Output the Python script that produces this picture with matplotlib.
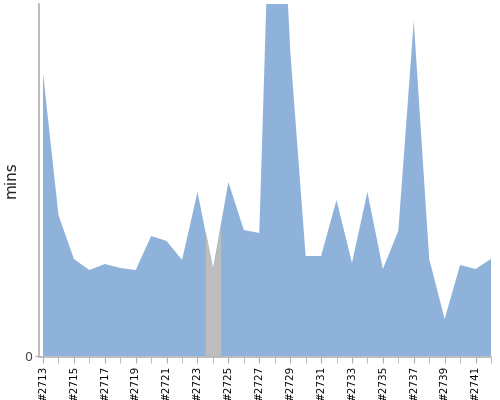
import numpy as np
import matplotlib
matplotlib.use("Agg")
import matplotlib.pyplot as plt

# build numbers and their durations (mins)
builds = np.arange(2713, 2743)
durations = np.array([28.3, 14.1, 9.7, 8.6, 9.2, 8.8, 8.6, 12.0, 11.5, 9.6,
                      16.4, 8.7, 17.4, 12.6, 12.3, 62.7, 30.6, 10.0, 10.0, 15.6,
                      9.3, 16.4, 8.7, 12.5, 33.5, 9.7, 3.7, 9.1, 8.7, 9.7])
# builds that were aborted (grey segments)
aborted = [2724]
tick_labels = ["#%d" % b for b in builds[::2]]

blue = "#8eb2d9"
grey = "#bdbdbd"
axis_grey = "#b0b0b0"

fig = plt.figure(figsize=(5, 4), dpi=100)
ax = fig.add_axes([39 / 500, 44 / 400, 452 / 500, 352 / 400])

# whole series in blue
ax.fill_between(builds, 0, durations, color=blue, linewidth=0)

# each aborted build covers half a step either side
for b in aborted:
    xs = np.array([b - 0.5, b, b + 0.5])
    ys = np.interp(xs, builds, durations)
    ax.fill_between(xs, 0, ys, color=grey, linewidth=0)

ax.set_xlim(builds[0] - 0.26, builds[-1])
ax.set_ylim(0, 35.2)

# minor ticks on every build, labels on every second one
ax.xaxis.set_minor_locator(matplotlib.ticker.FixedLocator(builds))
ax.xaxis.set_minor_formatter(matplotlib.ticker.NullFormatter())
ax.xaxis.set_major_locator(matplotlib.ticker.FixedLocator(builds[::2]))
ax.xaxis.set_major_formatter(matplotlib.ticker.FixedFormatter(tick_labels))
ax.tick_params(axis="x", which="major", labelrotation=90, labelsize=7.5)

ax.set_yticks([0])
ax.set_yticklabels(["0"], fontsize=9, color="#444444")

ax.tick_params(axis="x", which="both", length=4, color=axis_grey, pad=2)
ax.tick_params(axis="y", length=3, color=axis_grey, pad=2)

for side in ["top", "right"]:
    ax.spines[side].set_visible(False)
for side in ["left", "bottom"]:
    ax.spines[side].set_color(axis_grey)
    ax.spines[side].set_linewidth(1.2)
ax.spines["bottom"].set_position(("outward", 1))

ax.set_ylabel("mins", fontsize=11, color="#222222")
ax.yaxis.set_label_coords(-0.046, 0.5)

fig.savefig("out.png", dpi=100)
